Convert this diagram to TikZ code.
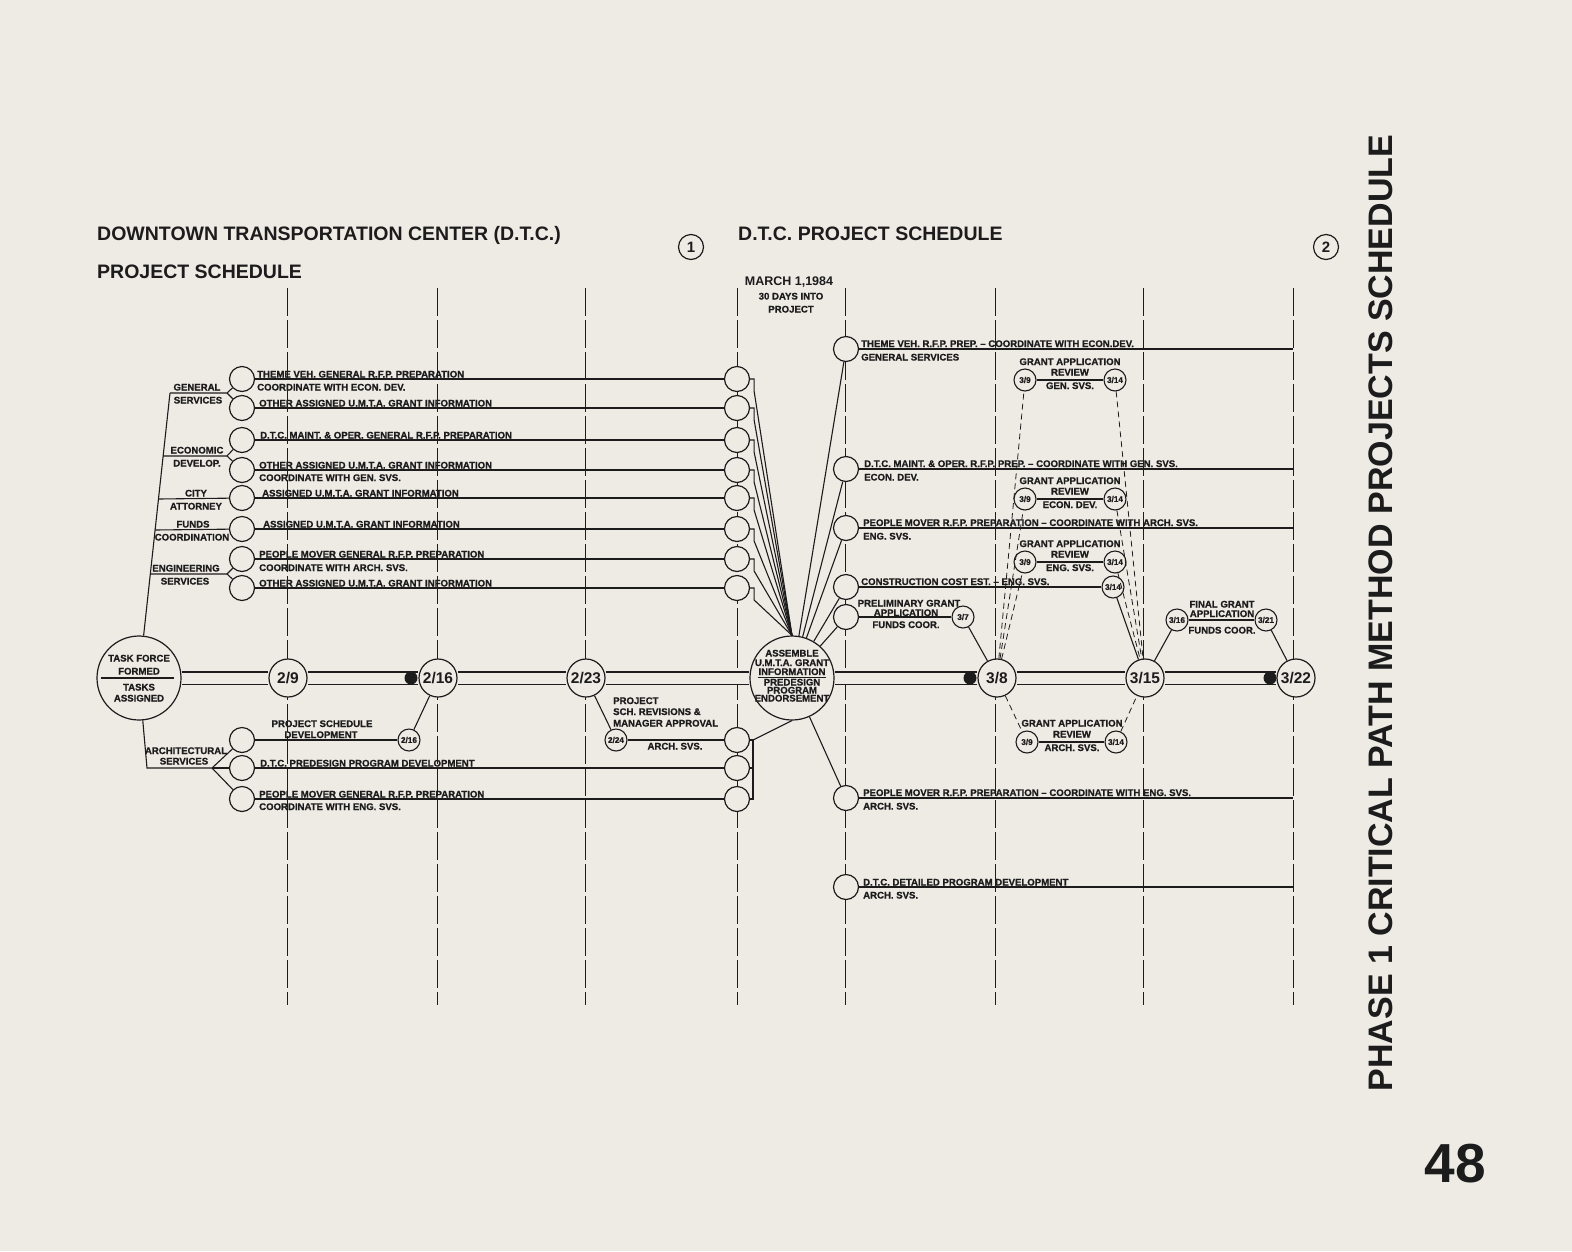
\documentclass[tikz,border=0pt]{standalone}
\usepackage{fontspec}
\setmainfont{Liberation Sans}
\newfontfamily\heavyfont{Liberation Sans}[Ligatures=TeX, BoldFeatures={FakeBold=0.9}]
\definecolor{paper}{RGB}{238,235,229}
\definecolor{ink}{RGB}{28,28,28}
\newcommand\lblfont{\heavyfont\fontsize{9.6}{9.6}\selectfont\bfseries}
\newcommand\datefont{\fontsize{15.5}{16}\selectfont\bfseries}
\newcommand\subfont{\heavyfont\fontsize{8.2}{8.2}\selectfont\bfseries}
\newcommand\headfont{\fontsize{19.5}{20}\selectfont\bfseries}
\tikzset{
  timeline/.style={ink, line width=0.7pt, dash pattern=on 28pt off 4pt},
  task/.style={circle, draw=ink, fill=paper, line width=1.2pt, minimum size=25pt, inner sep=0pt},
  event/.style={circle, draw=ink, fill=paper, line width=1.2pt, minimum size=38pt, inner sep=0pt, font=\datefont, text=ink},
  bigevent/.style={circle, draw=ink, fill=paper, line width=1.2pt, minimum size=84pt, inner sep=0pt},
  subevent/.style={circle, draw=ink, fill=paper, line width=1.1pt, minimum size=22pt, inner sep=0pt, font=\subfont, text=ink},
  milestone/.style={circle, fill=ink, minimum size=13pt, inner sep=0pt},
  sheet/.style={circle, draw=ink, line width=1.2pt, minimum size=25pt, inner sep=0pt, font=\fontsize{15}{15}\selectfont\bfseries, text=ink},
  head/.style={font=\headfont, text=ink, inner sep=0pt, anchor=base west},
  lbl/.style={font=\lblfont, text=ink, inner sep=0pt},
  rowtext/.style={lbl, anchor=base west},
  midtext/.style={lbl, anchor=base},
  link/.style={draw=ink, line width=1.1pt},
  critical/.style={draw=ink, line width=1.3pt, double=paper, double distance=11pt},
  review/.style={draw=ink, line width=0.8pt, dash pattern=on 6pt off 4pt},
}

\begin{document}
\begin{tikzpicture}[x=1pt,y=-1pt]
  % Page
  \fill[paper] (0,0) rectangle (1572,1251);
  \useasboundingbox (0,0) rectangle (1572,1251);

  % Time lines
  \foreach \x in {287,437,585,737,845,995,1143,1293}
    \draw[timeline] (\x,288) -- (\x,1005);

  % Headings
  \node[head] (title) at (97,240) {DOWNTOWN TRANSPORTATION CENTER (D.T.C.)};
  \node[head] (subtitle) at (97,278) {PROJECT SCHEDULE};
  \node[sheet] (sheet1) at (691,247) {1};
  \node[head] (title2) at (738,240) {D.T.C. PROJECT SCHEDULE};
  \node[sheet] (sheet2) at (1326,247) {2};
  \node[midtext, font=\fontsize{12.5}{13}\selectfont\bfseries] (march) at (789,285.5) {MARCH 1,1984};
  \node[midtext] (days) at (791,299.5) {30 DAYS INTO};
  \node[midtext] (proj) at (791,312.5) {PROJECT};
  \node[rotate=90, font=\fontsize{34}{34}\selectfont\bfseries, text=ink, inner sep=0pt] (phase) at (1381,613)
    {PHASE 1 CRITICAL PATH METHOD PROJECTS SCHEDULE};
  \node[font=\fontsize{55}{55}\selectfont\bfseries, text=ink, inner sep=0pt] (pageno) at (1455,1164) {48};

  % Critical path events
  \node[bigevent] (tf) at (139,678) {};
  \node[event] (d29) at (288,678) {2/9};
  \node[event] (d216) at (438,678) {2/16};
  \node[event] (d223) at (586,678) {2/23};
  \node[bigevent] (asm) at (792,678) {};
  \node[event] (d38) at (997,678) {3/8};
  \node[event] (d315) at (1145,678) {3/15};
  \node[event] (d322) at (1296,678) {3/22};

  % Task circles
  \foreach \n/\y in {t1/379,t2/408,t3/440,t4/470,t5/498,t6/529,t7/559,t8/588,a1/740,a2/768,a3/799}
    \node[task] (\n) at (242,\y) {};
  \foreach \n/\y in {c1/379,c2/408,c3/440,c4/470,c5/498,c6/529,c7/559,c8/588,ca1/740,ca2/768,ca3/799}
    \node[task] (\n) at (737,\y) {};
  \foreach \n/\y in {r1/349,r2/469,r3/528,r4/587,r5/617,r6/798,r7/887}
    \node[task] (\n) at (846,\y) {};

  % Sub events
  \node[subevent] (s216) at (409,740) {2/16};
  \node[subevent] (s224) at (616,740) {2/24};
  \node[subevent] (s37) at (963,617) {3/7};
  \node[subevent] (c314) at (1113,587) {3/14};
  \node[subevent] (g1a) at (1025,380) {3/9};
  \node[subevent] (g1b) at (1115,380) {3/14};
  \node[subevent] (g2a) at (1025,499) {3/9};
  \node[subevent] (g2b) at (1115,499) {3/14};
  \node[subevent] (g3a) at (1025,562) {3/9};
  \node[subevent] (g3b) at (1115,562) {3/14};
  \node[subevent] (g4a) at (1027,742) {3/9};
  \node[subevent] (g4b) at (1116,742) {3/14};
  \node[subevent] (s316) at (1177,620) {3/16};
  \node[subevent] (s321) at (1266,620) {3/21};

  % Branch points
  \coordinate (gsB) at (170,393);   \coordinate (gsF) at (227,393);
  \coordinate (edB) at (163,456);   \coordinate (edF) at (227,456);
  \coordinate (caB) at (158.5,499);
  \coordinate (fcB) at (155,530);
  \coordinate (esB) at (150.3,574); \coordinate (esF) at (227,574);
  \coordinate (asB) at (147,768);   \coordinate (asF) at (212,768);
  \coordinate (abr) at (753,740);
  \foreach \n/\y in {e1/349,e2/469,e3/528,e6/798,e7/887}
    \coordinate (\n) at (1293,\y);

  % Edges, task tree
  \draw[link] (tf) -- (gsB);
  \draw[link] (gsB) -- (gsF) -- (t1);  \draw[link] (gsF) -- (t2);
  \draw[link] (edB) -- (edF) -- (t3);  \draw[link] (edF) -- (t4);
  \draw[link] (caB) -- (t5);
  \draw[link] (fcB) -- (t6);
  \draw[link] (esB) -- (esF) -- (t7);  \draw[link] (esF) -- (t8);
  \draw[link] (tf) -- (asB) -- (asF) -- (a1);
  \draw[link] (asF) -- (a2);  \draw[link] (asF) -- (a3);

  % Edges, task rows
  \foreach \i in {1,...,8}
    \draw[link] (t\i) -- (c\i);
  \draw[link] (a2) -- (ca2);
  \draw[link] (a3) -- (ca3);
  \draw[link] (a1) -- (s216);
  \draw[link] (s216) -- (d216);
  \draw[link] (d223) -- (s224);
  \draw[link] (s224) -- (ca1);

  % Edges, into and out of the assembly event
  \foreach \i in {1,...,8}
    \draw[link] (c\i.east) -- ++(4,0) -- ++(0,12) -- (asm.north);
  \draw[link] (ca1.east) -- (abr) -- (abr |- ca3.east) -- (ca3.east);
  \draw[link] (ca2.east) -- (ca2.east -| abr);
  \draw[link] (abr) -- (asm.south);
  \foreach \r in {r1,r2,r3,r4,r5,r6}
    \draw[link] (asm) -- (\r);
  \draw[link] (r1) -- (e1);
  \draw[link] (r2) -- (e2);
  \draw[link] (r3) -- (e3);
  \draw[link] (r6) -- (e6);
  \draw[link] (r7) -- (e7);
  \draw[link] (r4) -- (c314);
  \draw[link] (c314) -- (d315);
  \draw[link] (r5) -- (s37);
  \draw[link] (s37) -- (d38);

  % Edges, grant reviews
  \foreach \g in {g1,g2,g3,g4} {
    \draw[link] (\g a) -- (\g b);
    \draw[review] (d38) -- (\g a);
    \draw[review] (\g b) -- (d315);
  }
  \draw[link] (d315) -- (s316);
  \draw[link] (s316) -- (s321);
  \draw[link] (s321) -- (d322);

  % Critical path
  \foreach \a/\b in {tf/d29,d29/d216,d216/d223,d223/asm,asm/d38,d38/d315,d315/d322}
    \draw[critical] (\a) -- (\b);
  \node[milestone] (m216) at (411,678) {};
  \node[milestone] (m38) at (970,678) {};
  \node[milestone] (m322) at (1270,678) {};

  % Event texts
  \node[midtext] at (139,661.5) {TASK FORCE};
  \node[midtext] at (139,674.5) {FORMED};
  \draw[link] ([xshift=5pt]tf.west) -- ([xshift=-8pt]tf.east);
  \node[midtext] at (139,690.5) {TASKS};
  \node[midtext] at (139,701.5) {ASSIGNED};
  \node[midtext] at (792,656.5) {ASSEMBLE};
  \node[midtext] at (792,666) {U.M.T.A. GRANT};
  \node[midtext] (asmI) at (792,675) {INFORMATION};
  \draw[line width=1.3pt, ink] ([yshift=-2pt]asmI.south west) -- ([yshift=-2pt]asmI.south east);
  \node[midtext] at (792,685.5) {PREDESIGN};
  \node[midtext] at (792,693.5) {PROGRAM};
  \node[midtext] at (792,701.5) {ENDORSEMENT};

  % Group labels
  \node[midtext] at (197,390.5) {GENERAL};
  \node[midtext] at (198,403.5) {SERVICES};
  \node[midtext] at (197,453.5) {ECONOMIC};
  \node[midtext] at (197,466.5) {DEVELOP.};
  \node[midtext] at (196,496.5) {CITY};
  \node[midtext] at (196,509.5) {ATTORNEY};
  \node[midtext] at (193,527.5) {FUNDS};
  \node[midtext] at (192,540.5) {COORDINATION};
  \node[midtext] at (186,571.5) {ENGINEERING};
  \node[midtext] at (185,584.5) {SERVICES};
  \node[midtext] at (186,754) {ARCHITECTURAL};
  \node[midtext] at (184,764.5) {SERVICES};

  % Task texts, left
  \node[rowtext] at (257,377.5) {THEME VEH. GENERAL R.F.P. PREPARATION};
  \node[rowtext] at (257,390.5) {COORDINATE WITH ECON. DEV.};
  \node[rowtext] at (259,406.5) {OTHER ASSIGNED U.M.T.A. GRANT INFORMATION};
  \node[rowtext] at (260,438.5) {D.T.C. MAINT. \& OPER. GENERAL R.F.P. PREPARATION};
  \node[rowtext] at (259,468.5) {OTHER ASSIGNED U.M.T.A. GRANT INFORMATION};
  \node[rowtext] at (259,481) {COORDINATE WITH GEN. SVS.};
  \node[rowtext] at (262,496.5) {ASSIGNED U.M.T.A. GRANT INFORMATION};
  \node[rowtext] at (263,527.5) {ASSIGNED U.M.T.A. GRANT INFORMATION};
  \node[rowtext] at (259,557.5) {PEOPLE MOVER GENERAL R.F.P. PREPARATION};
  \node[rowtext] at (259,571) {COORDINATE WITH ARCH. SVS.};
  \node[rowtext] at (259,586.5) {OTHER ASSIGNED U.M.T.A. GRANT INFORMATION};
  \node[midtext] at (322,727) {PROJECT SCHEDULE};
  \node[midtext] at (321,738) {DEVELOPMENT};
  \node[rowtext] at (260,766.5) {D.T.C. PREDESIGN PROGRAM DEVELOPMENT};
  \node[rowtext] at (259,797.5) {PEOPLE MOVER GENERAL R.F.P. PREPARATION};
  \node[rowtext] at (259,810) {COORDINATE WITH ENG. SVS.};
  \node[rowtext] at (613,704) {PROJECT};
  \node[rowtext] at (613,715) {SCH. REVISIONS \&};
  \node[rowtext] at (613,726.5) {MANAGER APPROVAL};
  \node[midtext] at (675,749.5) {ARCH. SVS.};

  % Task texts, right
  \node[rowtext] at (861,347) {THEME VEH. R.F.P. PREP. -- COORDINATE WITH ECON.DEV.};
  \node[rowtext] at (861,360.5) {GENERAL SERVICES};
  \node[rowtext] at (864,467) {D.T.C. MAINT. \& OPER. R.F.P. PREP. -- COORDINATE WITH GEN. SVS.};
  \node[rowtext] at (864,480.5) {ECON. DEV.};
  \node[rowtext] at (863,526) {PEOPLE MOVER R.F.P. PREPARATION -- COORDINATE WITH ARCH. SVS.};
  \node[rowtext] at (863,539.5) {ENG. SVS.};
  \node[rowtext] at (861,585) {CONSTRUCTION COST EST. -- ENG. SVS.};
  \node[midtext] at (909,606.5) {PRELIMINARY GRANT};
  \node[midtext] at (906,616) {APPLICATION};
  \node[midtext] at (906,628) {FUNDS COOR.};
  \node[rowtext] at (863,796) {PEOPLE MOVER R.F.P. PREPARATION -- COORDINATE WITH ENG. SVS.};
  \node[rowtext] at (863,809.5) {ARCH. SVS.};
  \node[rowtext] at (863,885.5) {D.T.C. DETAILED PROGRAM DEVELOPMENT};
  \node[rowtext] at (863,898.5) {ARCH. SVS.};

  % Grant review texts
  \foreach \y/\who in {380/{GEN. SVS.},499/{ECON. DEV.},562/{ENG. SVS.}} {
    \node[midtext] at (1070,\y-15) {GRANT APPLICATION};
    \node[midtext] at (1070,\y-4.5) {REVIEW};
    \node[midtext] at (1070,\y+9) {\who};
  }
  \node[midtext] at (1072,726.5) {GRANT APPLICATION};
  \node[midtext] at (1072,737.5) {REVIEW};
  \node[midtext] at (1072,751) {ARCH. SVS.};
  \node[midtext] at (1222,607.5) {FINAL GRANT};
  \node[midtext] at (1222,617) {APPLICATION};
  \node[midtext] at (1222,633.5) {FUNDS COOR.};
\end{tikzpicture}
\end{document}
